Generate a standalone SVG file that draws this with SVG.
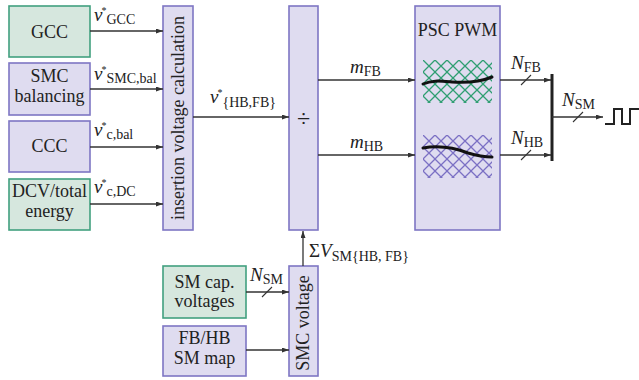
<svg xmlns="http://www.w3.org/2000/svg" width="639" height="380" viewBox="0 0 639 380">
<style>
.g{fill:#d6e7de;stroke:#41a07f;stroke-width:1.6}
.p{fill:#dfdcf0;stroke:#7e76c4;stroke-width:1.6}
.t{font-family:'Liberation Serif','Times New Roman','DejaVu Serif',serif;font-size:18px;fill:#222;text-anchor:middle}
.l{font-family:'Liberation Serif','Times New Roman','DejaVu Serif',serif;font-size:19px;fill:#222}
.i{font-style:italic}
.s{font-size:14px;font-style:normal}
.u{font-size:10px;font-style:normal}
.c{fill:none;stroke:#333;stroke-width:1.3}
.sl{fill:none;stroke:#333;stroke-width:1.1}
.w{fill:none;stroke:#111;stroke-width:3;stroke-linecap:round}
</style>
<defs>
<marker id="a" markerUnits="userSpaceOnUse" markerWidth="8" markerHeight="6" refX="7" refY="2.5" orient="auto">
<path d="M0,0 L7,2.5 L0,5 z" fill="#333"/>
</marker>
<pattern id="hg" patternUnits="userSpaceOnUse" x="423" y="60" width="12" height="12">
<path d="M0,0 L12,12 M12,0 L0,12" stroke="#2f9e72" stroke-width="1.3" fill="none"/>
</pattern>
<pattern id="hp" patternUnits="userSpaceOnUse" x="423" y="135" width="12" height="12">
<path d="M0,0 L12,12 M12,0 L0,12" stroke="#7b70c4" stroke-width="1.3" fill="none"/>
</pattern>
</defs>

<g id="gcc"><rect class="g" x="9" y="6" width="81" height="51"/><text class="t" x="49.5" y="38">GCC</text></g>
<g id="smcbal"><rect class="p" x="9" y="63" width="81" height="52"/><text class="t" x="49.5" y="82">SMC</text><text class="t" x="49.5" y="102">balancing</text></g>
<g id="ccc"><rect class="p" x="9" y="121" width="81" height="51"/><text class="t" x="49.5" y="152">CCC</text></g>
<g id="dcv"><rect class="g" x="9" y="179" width="81" height="51"/><text class="t" x="49.5" y="197">DCV/total</text><text class="t" x="49.5" y="217">energy</text></g>

<g id="ivc"><rect class="p" x="163" y="6" width="30" height="224"/><text class="t" transform="translate(184,118) rotate(-90)">insertion voltage calculation</text></g>
<g id="div"><rect class="p" x="289" y="6" width="29" height="224"/><text class="t" x="303.5" y="126" style="font-size:24px">÷</text></g>
<g id="psc"><rect class="p" x="415" y="6" width="85" height="224"/><text class="t" x="457.5" y="36">PSC PWM</text>
<rect x="423" y="60" width="69" height="43" fill="url(#hg)"/>
<rect x="423" y="135" width="69" height="43" fill="url(#hp)"/>
<path class="w" d="M423,84 C432,80 440,81 452,82 C466,83 480,82 492,77"/>
<path class="w" d="M423,148 C440,145 455,148 468,153 C478,156 485,157 492,157"/>
</g>

<g id="smcv"><rect class="p" x="289" y="266" width="29" height="110"/><text class="t" transform="translate(309,323) rotate(-90)">SMC voltage</text></g>
<g id="smcap"><rect class="g" x="163" y="266" width="83" height="52"/><text class="t" x="204.5" y="288">SM cap.</text><text class="t" x="204.5" y="307">voltages</text></g>
<g id="map"><rect class="p" x="163" y="326" width="83" height="50"/><text class="t" x="204.5" y="344">FB/HB</text><text class="t" x="204.5" y="364">SM map</text></g>

<g id="connectors">
<line class="c" x1="90" y1="31" x2="163" y2="31" marker-end="url(#a)"/>
<line class="c" x1="90" y1="89" x2="163" y2="89" marker-end="url(#a)"/>
<line class="c" x1="90" y1="147" x2="163" y2="147" marker-end="url(#a)"/>
<line class="c" x1="90" y1="204" x2="163" y2="204" marker-end="url(#a)"/>
<line class="c" x1="193" y1="117" x2="289" y2="117" marker-end="url(#a)"/>
<line class="c" x1="318" y1="80" x2="415" y2="80" marker-end="url(#a)"/>
<line class="c" x1="318" y1="155" x2="415" y2="155" marker-end="url(#a)"/>
<line class="c" x1="500" y1="80" x2="551" y2="80" marker-end="url(#a)"/>
<line class="c" x1="500" y1="155" x2="551" y2="155" marker-end="url(#a)"/>
<line x1="552" y1="74" x2="552" y2="161" stroke="#222" stroke-width="3"/>
<line class="c" x1="552" y1="117" x2="603" y2="117" marker-end="url(#a)"/>
<path d="M605,124 H614 V109 H622 V124 H630 V109 H639" fill="none" stroke="#222" stroke-width="2"/>
<line class="sl" x1="521" y1="85" x2="531" y2="75"/>
<line class="sl" x1="521" y1="160" x2="531" y2="150"/>
<line class="sl" x1="573" y1="122" x2="583" y2="112"/>
<line class="c" x1="303" y1="266" x2="303" y2="231" marker-end="url(#a)"/>
<line class="c" x1="246" y1="292" x2="289" y2="292" marker-end="url(#a)"/>
<line class="sl" x1="262" y1="297" x2="272" y2="287"/>
<line class="c" x1="246" y1="350" x2="289" y2="350" marker-end="url(#a)"/>
</g>

<g id="labels">
<text class="l" x="94" y="21"><tspan class="i">v</tspan><tspan class="u" dx="-1" dy="-7">*</tspan><tspan class="s" dy="10">GCC</tspan></text>
<text class="l" x="94" y="80"><tspan class="i">v</tspan><tspan class="u" dx="-1" dy="-7">*</tspan><tspan class="s" dy="10">SMC,bal</tspan></text>
<text class="l" x="94" y="136"><tspan class="i">v</tspan><tspan class="u" dx="-1" dy="-7">*</tspan><tspan class="s" dy="10">c,bal</tspan></text>
<text class="l" x="94" y="193"><tspan class="i">v</tspan><tspan class="u" dx="-1" dy="-7">*</tspan><tspan class="s" dy="10">c,DC</tspan></text>
<text class="l" x="210" y="103"><tspan class="i">v</tspan><tspan class="u" dx="-1" dy="-7">*</tspan><tspan class="s" dy="11">{HB,FB}</tspan></text>
<text class="l" x="350" y="73"><tspan class="i">m</tspan><tspan class="s" dy="3">FB</tspan></text>
<text class="l" x="350" y="148"><tspan class="i">m</tspan><tspan class="s" dy="3">HB</tspan></text>
<text class="l" x="511" y="69"><tspan class="i">N</tspan><tspan class="s" dy="3">FB</tspan></text>
<text class="l" x="511" y="144"><tspan class="i">N</tspan><tspan class="s" dy="3">HB</tspan></text>
<text class="l" x="562" y="106"><tspan class="i">N</tspan><tspan class="s" dy="3">SM</tspan></text>
<text class="l" x="250" y="281"><tspan class="i">N</tspan><tspan class="s" dy="3">SM</tspan></text>
<text class="l" x="309" y="257">Σ<tspan class="i">V</tspan><tspan class="s" dy="4">SM{HB, FB}</tspan></text>
</g>
</svg>
